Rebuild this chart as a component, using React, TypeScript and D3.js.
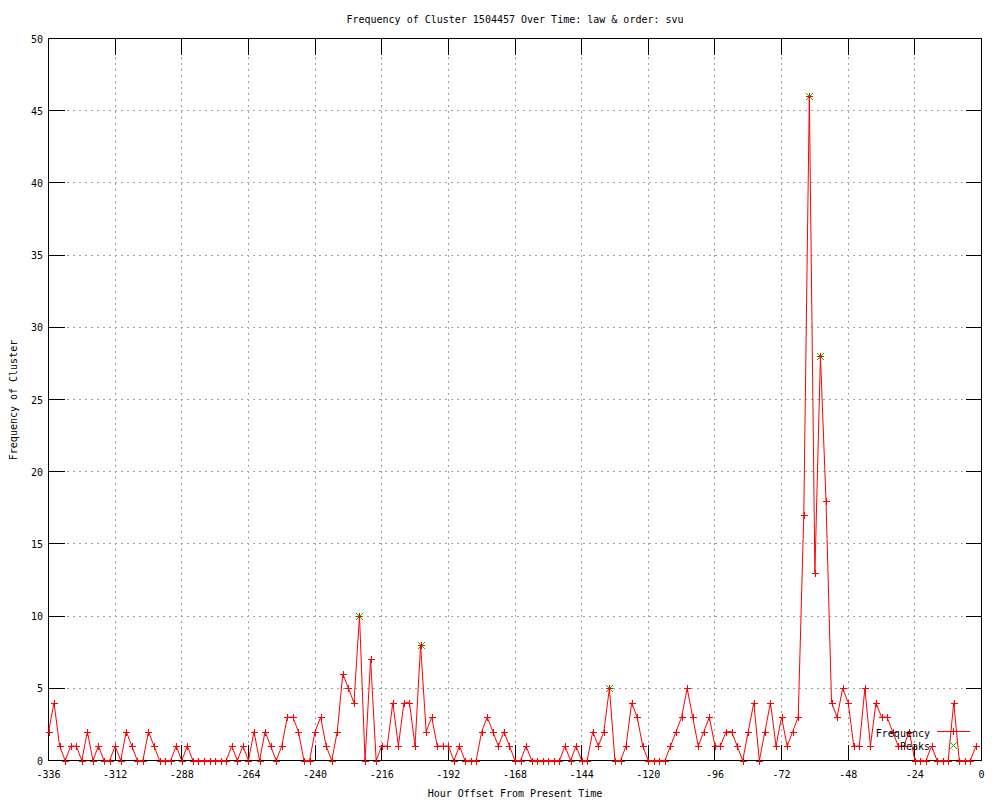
import React from 'react';
import * as d3 from 'd3';

// hourly counts, one value every 2 hours from -336 to -2
const frequency = [
  2, 4, 1, 0, 1, 1, 0, 2, 0, 1, 0, 0,
  1, 0, 2, 1, 0, 0, 2, 1, 0, 0, 0, 1,
  0, 1, 0, 0, 0, 0, 0, 0, 0, 1, 0, 1,
  0, 2, 0, 2, 1, 0, 1, 3, 3, 2, 0, 0,
  2, 3, 1, 0, 2, 6, 5, 4, 10, 0, 7, 0,
  1, 1, 4, 1, 4, 4, 1, 8, 2, 3, 1, 1,
  1, 0, 1, 0, 0, 0, 2, 3, 2, 1, 2, 1,
  0, 0, 1, 0, 0, 0, 0, 0, 0, 1, 0, 1,
  0, 0, 2, 1, 2, 5, 0, 0, 1, 4, 3, 1,
  0, 0, 0, 0, 1, 2, 3, 5, 3, 1, 2, 3,
  1, 1, 2, 2, 1, 0, 2, 4, 0, 2, 4, 1,
  3, 1, 2, 3, 17, 46, 13, 28, 18, 4, 3, 5,
  4, 1, 1, 5, 1, 4, 3, 3, 2, 1, 1, 2,
  0, 0, 0, 1, 0, 0, 0, 4, 0, 0, 0, 1,
];
const hours = frequency.map((_, i) => -336 + 2 * i);

const peakHours = [-224, -202, -134, -62, -58];
const peakValues = [10, 8, 5, 46, 28];

const xTicks = [-336, -312, -288, -264, -240, -216, -192, -168, -144, -120, -96, -72, -48, -24, 0];
const yTicks = [0, 5, 10, 15, 20, 25, 30, 35, 40, 45, 50];

const title = 'Frequency of Cluster 1504457 Over Time: law & order: svu';
const xLabel = 'Hour Offset From Present Time';
const yLabel = 'Frequency of Cluster';

const FONT = '"DejaVu Sans Mono", monospace';

export default function App() {
  const left = 48.5, right = 981.5, top = 38.5, bottom = 760.5;
  const x = d3.scaleLinear().domain([-336, 0]).range([left, right]);
  const y = d3.scaleLinear().domain([0, 50]).range([bottom, top]);
  const tick = 16;

  const line = d3.line<number>()
    .x((_, i) => x(hours[i]))
    .y(d => y(d));

  const plus = (cx: number, cy: number) =>
    `M${cx - 3.5},${cy}H${cx + 3.5}M${cx},${cy - 3.5}V${cy + 3.5}`;
  const cross = (cx: number, cy: number) =>
    `M${cx - 3.5},${cy - 3.5}L${cx + 3.5},${cy + 3.5}M${cx - 3.5},${cy + 3.5}L${cx + 3.5},${cy - 3.5}`;

  return (
    <svg width={1000} height={800} style={{ position: 'absolute', left: 0, top: 0, background: '#fff' }}
      fontFamily={FONT} fontSize={10}>
      <rect width={1000} height={800} fill="#fff" />

      {/* grid */}
      <g stroke="#a0a0a0" strokeDasharray="2,4" shapeRendering="crispEdges">
        {xTicks.slice(1, -1).map(t => (
          <line key={'gx' + t} x1={x(t)} x2={x(t)} y1={top} y2={bottom} />
        ))}
        {yTicks.slice(1, -1).map(t => (
          <line key={'gy' + t} x1={left} x2={right} y1={y(t)} y2={y(t)} />
        ))}
      </g>

      {/* ticks on all sides */}
      <g stroke="#000" shapeRendering="crispEdges">
        {xTicks.map(t => (
          <g key={'tx' + t}>
            <line x1={x(t)} x2={x(t)} y1={bottom} y2={bottom - tick} />
            <line x1={x(t)} x2={x(t)} y1={top} y2={top + tick} />
          </g>
        ))}
        {yTicks.map(t => (
          <g key={'ty' + t}>
            <line x1={left} x2={left + tick} y1={y(t)} y2={y(t)} />
            <line x1={right} x2={right - tick} y1={y(t)} y2={y(t)} />
          </g>
        ))}
        <rect x={left} y={top} width={right - left} height={bottom - top} fill="none" />
      </g>

      {/* tick labels */}
      {xTicks.map(t => (
        <text key={'lx' + t} x={x(t)} y={778} textAnchor="middle">{t}</text>
      ))}
      {yTicks.map(t => (
        <text key={'ly' + t} x={43} y={y(t) + 4} textAnchor="end">{t}</text>
      ))}

      {/* titles */}
      <text x={515} y={23} textAnchor="middle">{title}</text>
      <text x={515} y={797} textAnchor="middle">{xLabel}</text>
      <text transform="translate(17,400) rotate(-90)" textAnchor="middle">{yLabel}</text>

      {/* peaks (under the red markers) */}
      <g stroke="#00c000" shapeRendering="crispEdges">
        {peakValues.map((v, i) => (
          <path key={'k' + i} d={cross(Math.round(x(peakHours[i])) + 0.5, Math.round(y(v)) + 0.5)} />
        ))}
      </g>

      {/* frequency series */}
      <path d={line(frequency) || ''} fill="none" stroke="#ff0000" strokeWidth={1} />
      <g stroke="#ff0000" shapeRendering="crispEdges">
        {frequency.map((v, i) => (
          <path key={'p' + i} d={plus(Math.round(x(hours[i])) + 0.5, Math.round(y(v)) + 0.5)} />
        ))}
      </g>

      {/* legend */}
      <text x={930} y={737} textAnchor="end">Frequency</text>
      <line x1={937} x2={970} y1={731.5} y2={731.5} stroke="#ff0000" shapeRendering="crispEdges" />
      <path d={plus(953.5, 731.5)} stroke="#ff0000" shapeRendering="crispEdges" />
      <text x={930} y={750} textAnchor="end">Peaks</text>
      <path d={cross(953.5, 745.5)} stroke="#00c000" shapeRendering="crispEdges" />
    </svg>
  );
}
